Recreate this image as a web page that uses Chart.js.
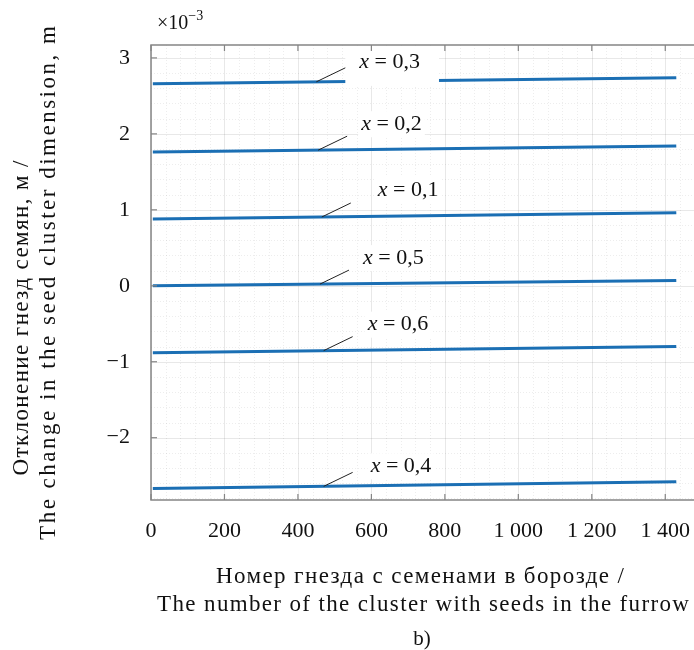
<!DOCTYPE html>
<html>
<head>
<meta charset="utf-8">
<script src="https://cdn.jsdelivr.net/npm/chart.js@4.4.1/dist/chart.umd.min.js"></script>
<style>
html,body{margin:0;padding:0;background:#fff;overflow:hidden;}
#wrap{width:694px;height:650px;overflow:hidden;}
canvas{display:block;}
</style>
</head>
<body>
<div id="wrap"><canvas id="chart" width="720" height="650"></canvas></div>
<script>
// DATA (deviation in units of 10^-3 m)

const clusterNo = [5, 1430];
const seriesNames = ["x = 0,3", "x = 0,2", "x = 0,1", "x = 0,5", "x = 0,6", "x = 0,4"];
const dev03 = [2.66, 2.74];
const dev02 = [1.76, 1.84];
const dev01 = [0.88, 0.96];
const dev05 = [0.00, 0.07];
const dev06 = [-0.88, -0.80];
const dev04 = [-2.67, -2.58];
const seriesValues = [dev03, dev02, dev01, dev05, dev06, dev04];
// where the leader line of each label touches its curve (cluster number)
const labelAt = [450, 455, 465, 460, 470, 470];
const xTicks = [0, 200, 400, 600, 800, 1000, 1200, 1400];
const yTicks = [-2, -1, 0, 1, 2, 3];

const FONT = "'Liberation Serif', 'DejaVu Serif', serif";
const BLUE = "#1b6fb4";
const FRAME = "#858585";

// label layout: text offset from leader end
const textDx = [14, 14, 27, 14, 15, 18];
const textDy = [-6, -12, -13, -12, -12, -6];

function fmt(v){
  const a = Math.abs(v);
  let s = a >= 1000 ? Math.floor(a/1000) + " " + String(a%1000).padStart(3,"0") : String(a);
  return (v < 0 ? "\u2212" : "") + s;
}

const datasets = seriesValues.map((vals,i)=>({
  label: seriesNames[i],
  data: clusterNo.map((x,j)=>({x:x, y:vals[j]})),
  borderColor: BLUE,
  borderWidth: 3,
  pointRadius: 0,
  fill: false,
  tension: 0
}));

const gridPlugin = {
  id: "grid",
  beforeDatasetsDraw(chart){
    const {ctx, chartArea:a, scales:{x, y}} = chart;
    ctx.save();
    ctx.beginPath();
    ctx.rect(a.left, a.top, a.right-a.left, a.bottom-a.top);
    ctx.clip();
    // minor dotted grid
    ctx.strokeStyle = "rgba(0,0,0,0.07)";
    ctx.lineWidth = 1;
    ctx.setLineDash([1,2]);
    for(let v=0; v<=1500; v+=40){
      if(v%200===0) continue;
      const px = Math.round(x.getPixelForValue(v))+0.5;
      ctx.beginPath(); ctx.moveTo(px,a.top); ctx.lineTo(px,a.bottom); ctx.stroke();
    }
    for(let k=-15; k<=16; k++){
      if(k%5===0) continue;
      const py = Math.round(y.getPixelForValue(k*0.2))+0.5;
      ctx.beginPath(); ctx.moveTo(a.left,py); ctx.lineTo(a.right,py); ctx.stroke();
    }
    // major grid
    ctx.setLineDash([]);
    ctx.strokeStyle = "rgba(0,0,0,0.09)";
    xTicks.forEach(v=>{
      const px = Math.round(x.getPixelForValue(v))+0.5;
      ctx.beginPath(); ctx.moveTo(px,a.top); ctx.lineTo(px,a.bottom); ctx.stroke();
    });
    yTicks.forEach(v=>{
      const py = Math.round(y.getPixelForValue(v))+0.5;
      ctx.beginPath(); ctx.moveTo(a.left,py); ctx.lineTo(a.right,py); ctx.stroke();
    });
    ctx.restore();
  }
};

function spaced(ctx, text, x, y, spacing){
  // centred text with extra letter spacing
  if("letterSpacing" in ctx){
    ctx.letterSpacing = spacing + "px";
    ctx.fillText(text, x + spacing/2, y);
    ctx.letterSpacing = "0px";
  } else {
    ctx.fillText(text, x, y);
  }
}

const decoPlugin = {
  id: "deco",
  afterDatasetsDraw(chart){
    const {ctx, chartArea:a, scales:{x, y}} = chart;
    ctx.save();

    // labels with leader lines
    seriesValues.forEach((vals,i)=>{
      const xv = labelAt[i];
      const t = (xv-clusterNo[0])/(clusterNo[1]-clusterNo[0]);
      const yv = vals[0] + t*(vals[1]-vals[0]);
      const sx = x.getPixelForValue(xv);
      const sy = y.getPixelForValue(yv);
      const ex = sx + 29, ey = sy - 14;
      const tx = ex + textDx[i], ty = ey + textDy[i];

      ctx.font = "italic 22px " + FONT;
      const w1 = ctx.measureText("x").width;
      ctx.font = "22px " + FONT;
      const rest = seriesNames[i].slice(1);
      const w2 = ctx.measureText(rest).width;

      ctx.fillStyle = "#fff";
      if(i===0){
        // the top label's box hides part of its curve
        ctx.fillRect(ex, a.top+2, tx+w1+w2+19-ex, sy+4-a.top-2);
      } else {
        ctx.fillRect(tx-3, ty-13, w1+w2+6, 26);
      }

      ctx.strokeStyle = "#222";
      ctx.lineWidth = 1;
      ctx.beginPath(); ctx.moveTo(sx,sy); ctx.lineTo(ex,ey); ctx.stroke();

      ctx.fillStyle = "#111";
      ctx.textBaseline = "middle";
      ctx.textAlign = "left";
      ctx.font = "italic 22px " + FONT;
      ctx.fillText("x", tx, ty);
      ctx.font = "22px " + FONT;
      ctx.fillText(rest, tx+w1, ty);
    });

    // frame and inward ticks
    ctx.strokeStyle = FRAME;
    ctx.lineWidth = 1.5;
    ctx.strokeRect(a.left, a.top, a.right-a.left, a.bottom-a.top);
    ctx.lineWidth = 1.2;
    xTicks.forEach(v=>{
      const px = x.getPixelForValue(v);
      ctx.beginPath(); ctx.moveTo(px,a.bottom); ctx.lineTo(px,a.bottom-6); ctx.stroke();
      ctx.beginPath(); ctx.moveTo(px,a.top); ctx.lineTo(px,a.top+6); ctx.stroke();
    });
    yTicks.forEach(v=>{
      const py = y.getPixelForValue(v);
      ctx.beginPath(); ctx.moveTo(a.left,py); ctx.lineTo(a.left+6,py); ctx.stroke();
    });

    // exponent
    ctx.fillStyle = "#111";
    ctx.textBaseline = "alphabetic";
    ctx.textAlign = "left";
    ctx.font = "20px " + FONT;
    ctx.fillText("\u00d710", 157, 29);
    const we = ctx.measureText("\u00d710").width;
    ctx.font = "14px " + FONT;
    ctx.fillText("\u22123", 157+we, 20);

    // axis titles
    ctx.textAlign = "center";
    ctx.textBaseline = "middle";
    ctx.font = "23px " + FONT;
    spaced(ctx, "\u041d\u043e\u043c\u0435\u0440 \u0433\u043d\u0435\u0437\u0434\u0430 \u0441 \u0441\u0435\u043c\u0435\u043d\u0430\u043c\u0438 \u0432 \u0431\u043e\u0440\u043e\u0437\u0434\u0435 /", 420, 577, 1.4);
    spaced(ctx, "The number of the cluster with seeds in the furrow", 423, 605, 1.35);
    ctx.font = "21px " + FONT;
    ctx.fillText("b)", 422, 639);

    ctx.save();
    ctx.translate(22, 318);
    ctx.rotate(-Math.PI/2);
    ctx.font = "23px " + FONT;
    spaced(ctx, "\u041e\u0442\u043a\u043b\u043e\u043d\u0435\u043d\u0438\u0435 \u0433\u043d\u0435\u0437\u0434 \u0441\u0435\u043c\u044f\u043d, \u043c /", 0, 0, 1.4);
    ctx.restore();
    ctx.save();
    ctx.translate(49, 283);
    ctx.rotate(-Math.PI/2);
    ctx.font = "23px " + FONT;
    spaced(ctx, "The change in the seed cluster dimension, m", 0, 0, 2.5);
    ctx.restore();

    ctx.restore();
  }
};

new Chart(document.getElementById("chart"),{
  type: "line",
  data: { datasets: datasets },
  options: {
    responsive: false,
    animation: false,
    devicePixelRatio: 1,
    layout: { padding: { top: 45, right: 18, left: 0, bottom: 0 } },
    plugins: { legend: { display: false }, tooltip: { enabled: false } },
    scales: {
      x: {
        type: "linear",
        min: 0, max: 1500,
        afterFit: s => { s.height = 150; },
        grid: { display: false, drawTicks: false },
        border: { display: false },
        ticks: {
          stepSize: 200, includeBounds: false, padding: 18,
          color: "#111", font: { family: FONT, size: 22 },
          maxRotation: 0, autoSkip: false,
          callback: v => fmt(v)
        }
      },
      y: {
        type: "linear",
        min: -2.82, max: 3.17,
        afterFit: s => { s.width = 151; },
        grid: { display: false, drawTicks: false },
        border: { display: false },
        ticks: {
          stepSize: 1, includeBounds: false, padding: 21,
          color: "#111", font: { family: FONT, size: 22 },
          callback: v => fmt(v)
        }
      }
    }
  },
  plugins: [gridPlugin, decoPlugin]
});
</script>
</body>
</html>
